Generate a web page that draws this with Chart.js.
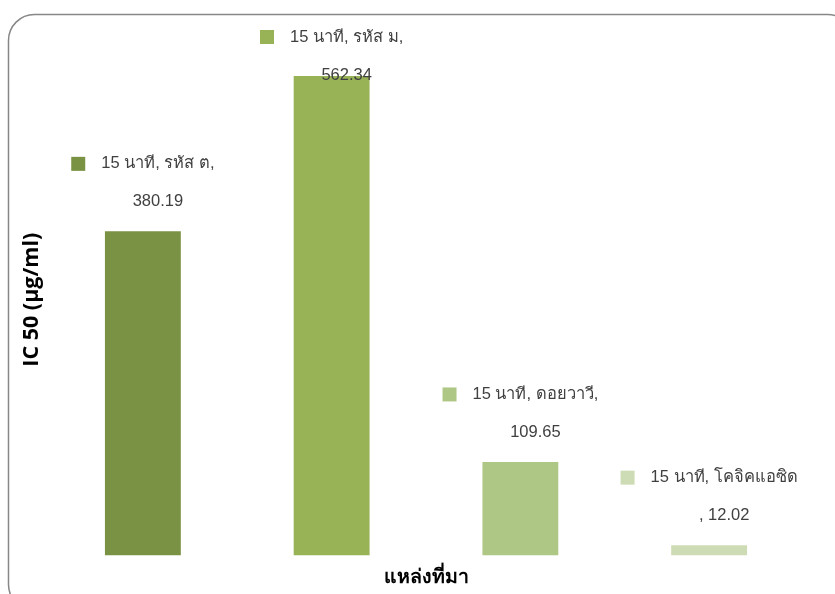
<!DOCTYPE html>
<html>
<head>
<meta charset="utf-8">
<script src="https://cdn.jsdelivr.net/npm/chart.js@4"></script>
<style>
  html, body { margin: 0; padding: 0; background: #fff; }
  #wrap { width: 835px; height: 594px; }
</style>
</head>
<body>
<div id="wrap"><canvas id="icChart"></canvas></div>
<script>
const seriesName = '15 นาที';
const categories = ['รหัส ต', 'รหัส ม', 'ดอยวาวี', 'โคจิคแอซิด'];
const values = [380.19, 562.34, 109.65, 12.02];
const barColors = ['#7a9243', '#97b356', '#aec784', '#cedcb5'];
const yTitle = 'IC 50 (µg/ml)';
const xTitle = 'แหล่งที่มา';

const labelFont = '16.5px "Liberation Sans", Arial, sans-serif';

// greedy wrap like Excel data labels
function wrapTokens(ctx, tokens, maxWidth) {
    const lines = [];
    let line = '';
    tokens.forEach(t => {
        const test = line + t;
        if (line && ctx.measureText(test).width > maxWidth) {
            lines.push(line);
            line = t.trimStart();
        } else {
            line = test;
        }
    });
    lines.push(line);
    return lines;
}

// rounded chart border
const borderPlugin = {
    id: 'chartBorder',
    beforeDraw(chart) {
        const ctx = chart.ctx;
        ctx.save();
        ctx.fillStyle = '#fff';
        ctx.fillRect(0, 0, chart.width, chart.height);
        ctx.beginPath();
        ctx.roundRect(8.5, 14.5, 845, 596, 26);
        ctx.strokeStyle = '#878787';
        ctx.lineWidth = 1.5;
        ctx.stroke();
        ctx.restore();
    }
};

// data labels with legend key
const labelPlugin = {
    id: 'barLabels',
    afterDatasetsDraw(chart) {
        const ctx = chart.ctx;
        const meta = chart.getDatasetMeta(0);
        ctx.save();
        ctx.font = labelFont;
        ctx.textBaseline = 'middle';
        ctx.textAlign = 'center';
        meta.data.forEach((bar, i) => {
            const tokens = [seriesName + ',', ' ' + categories[i], ',', ' ' + values[i].toFixed(2)];
            const lines = wrapTokens(ctx, tokens, 151);
            const w1 = ctx.measureText(lines[0]).width;
            const blockW = 14 + 16 + w1;
            const left = bar.x - blockW / 2;
            const textCx = left + 30 + w1 / 2;
            let y2 = bar.y - 29.5;
            let y1 = y2 - 38;
            if (y1 < chart.chartArea.top - 7) {
                y1 = chart.chartArea.top - 7;
                y2 = y1 + 38;
            }
            ctx.fillStyle = barColors[i];
            ctx.fillRect(left, y1 - 7, 14, 14);
            ctx.fillStyle = '#404040';
            ctx.fillText(lines[0], textCx, y1);
            if (lines[1]) ctx.fillText(lines[1], textCx, y2);
        });
        ctx.restore();
    }
};

new Chart(document.getElementById('icChart'), {
    type: 'bar',
    data: {
        labels: categories,
        datasets: [{
            label: seriesName,
            data: values,
            backgroundColor: barColors,
            borderWidth: 0,
            categoryPercentage: 1,
            barPercentage: 0.402
        }]
    },
    options: {
        responsive: true,
        maintainAspectRatio: false,
        animation: false,
        layout: { padding: { left: 15, right: 31.5, top: 44, bottom: 5 } },
        plugins: {
            legend: { display: false },
            tooltip: { enabled: false }
        },
        scales: {
            x: {
                grid: { display: false, drawTicks: false },
                border: { display: false },
                ticks: { display: false },
                title: {
                    display: true,
                    text: xTitle,
                    color: '#000',
                    font: { family: '"Liberation Sans", Arial, sans-serif', size: 19.5, weight: 'bold' },
                    padding: { top: 10.2, bottom: 0 }
                }
            },
            y: {
                min: 0,
                max: 600,
                grid: { display: false, drawTicks: false },
                border: { display: false },
                ticks: { display: false },
                title: {
                    display: true,
                    text: yTitle,
                    color: '#000',
                    font: { family: '"Open Sans", Lato, sans-serif', size: 21.5, weight: 'bold' },
                    padding: { top: 4, bottom: 3.7 }
                }
            }
        }
    },
    plugins: [borderPlugin, labelPlugin]
});
</script>
</body>
</html>
